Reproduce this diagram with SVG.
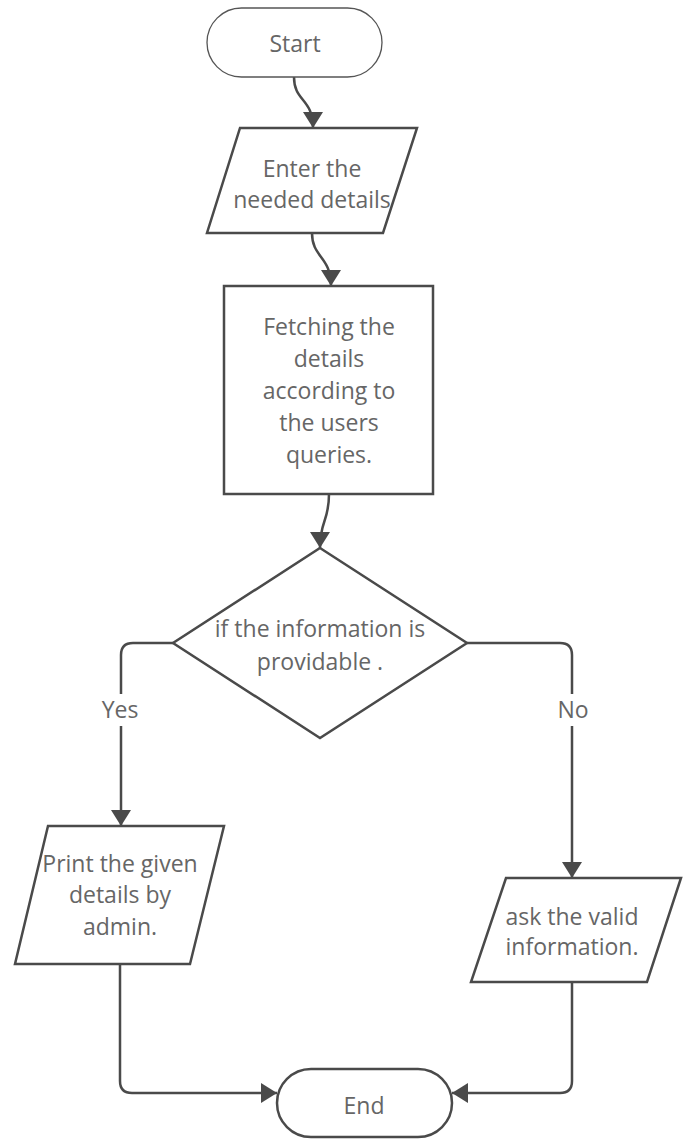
<svg xmlns="http://www.w3.org/2000/svg" width="683" height="1140" viewBox="0 0 683 1140">
<style>
.shape{fill:#fff;stroke:#4a4a4a;stroke-width:2.5;stroke-linejoin:miter}
.thin{stroke-width:1.3;stroke:#555}
.conn{fill:none;stroke:#4a4a4a;stroke-width:2.5}
.t{font-family:"Open Sans","Noto Sans",sans-serif;font-size:23px;fill:#666;text-anchor:middle}
</style>
<defs>
<marker id="arr" markerUnits="userSpaceOnUse" markerWidth="16" markerHeight="20" refX="16" refY="10" orient="auto">
<path d="M0,0 L16,10 L0,20 z" fill="#4a4a4a"/>
</marker>
</defs>
<rect width="683" height="1140" fill="#fff"/>
<g id="connectors">
<path class="conn" d="M294,77 C294,102 313,98 313,128" marker-end="url(#arr)"/>
<path class="conn" d="M312,233 C312,258 331,256 331,286" marker-end="url(#arr)"/>
<path class="conn" d="M329,494 C329,522 320,520 320,548" marker-end="url(#arr)"/>
<path class="conn" d="M173,643 L133,643 Q121,643 121,655 L121,826" marker-end="url(#arr)"/>
<path class="conn" d="M467,643 L560,643 Q572,643 572,655 L572,878" marker-end="url(#arr)"/>
<path class="conn" d="M120,964 L120,1081 Q120,1093 132,1093 L277,1093" marker-end="url(#arr)"/>
<path class="conn" d="M572,982 L572,1081 Q572,1093 560,1093 L452,1093" marker-end="url(#arr)"/>
<rect x="96" y="694" width="50" height="32" fill="#fff"/>
<text class="t" x="120" y="718">Yes</text>
<rect x="552" y="694" width="42" height="32" fill="#fff"/>
<text class="t" x="573" y="718">No</text>
</g>
<g id="start">
<rect class="shape thin" x="207" y="8" width="175" height="69" rx="34.5"/>
<text class="t" x="295" y="52">Start</text>
</g>
<g id="input">
<polygon class="shape" points="240,128 417,128 383,233 207,233"/>
<text class="t" x="312" y="177">Enter the</text>
<text class="t" x="312" y="208">needed details</text>
</g>
<g id="process">
<rect class="shape" x="224" y="286" width="209" height="208"/>
<text class="t" x="329" y="335">Fetching the</text>
<text class="t" x="329" y="367">details</text>
<text class="t" x="329" y="399">according to</text>
<text class="t" x="329" y="431">the users</text>
<text class="t" x="329" y="463">queries.</text>
</g>
<g id="decision">
<polygon class="shape" points="320,548 467,643 320,738 173,643"/>
<text class="t" x="320" y="637">if the information is</text>
<text class="t" x="320" y="670">providable .</text>
</g>
<g id="print">
<polygon class="shape" points="48,826 224,826 190,964 15,964"/>
<text class="t" x="120" y="872">Print the given</text>
<text class="t" x="120" y="903">details by</text>
<text class="t" x="120" y="935">admin.</text>
</g>
<g id="ask">
<polygon class="shape" points="506,878 681,878 647,982 471,982"/>
<text class="t" x="572" y="925">ask the valid</text>
<text class="t" x="572" y="955">information.</text>
</g>
<g id="end">
<rect class="shape" x="277" y="1069" width="175" height="68" rx="34"/>
<text class="t" x="364" y="1114">End</text>
</g>
</svg>
